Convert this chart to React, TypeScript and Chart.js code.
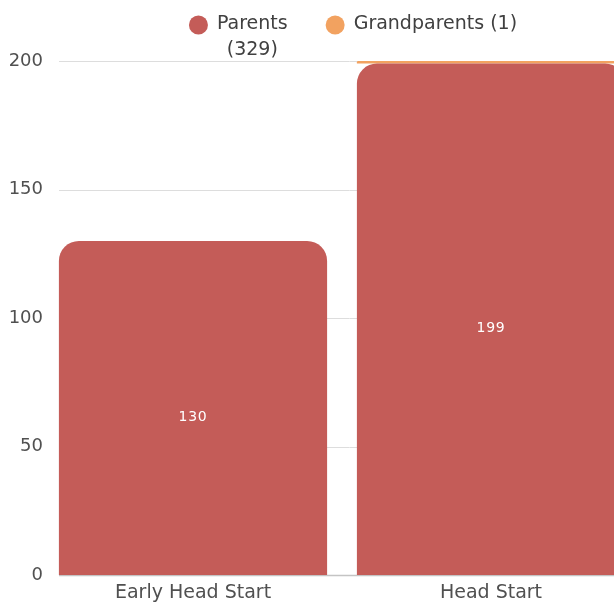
import React, { useEffect, useRef } from 'react';
import { Chart, registerables } from 'chart.js';

Chart.register(...registerables);

const CATEGORIES = ['Early Head Start', 'Head Start'];
const SERIES_NAMES = ['Parents', 'Grandparents'];
const PARENTS = [130, 199];
const GRANDPARENTS = [0, 1];
const Y_TICKS = [0, 50, 100, 150, 200];

const FONT = '"DejaVu Sans", sans-serif';
const RED = '#C45C58';
const ORANGE = '#F2A260';
const TEXT = '#505050';
const W = 706;
const H = 602;

const sum = (a: number[]) => a.reduce((s, v) => s + v, 0);

const gridPlugin = {
  id: 'customGrid',
  beforeDatasetsDraw(chart: any) {
    const { ctx, chartArea, scales } = chart;
    const y = scales.y;
    ctx.save();
    y.ticks.forEach((t: any) => {
      const py = Math.round(y.getPixelForValue(t.value)) + 0.5;
      ctx.strokeStyle = t.value === 0 ? '#c4c4c4' : '#dddddd';
      ctx.lineWidth = t.value === 0 ? 1.5 : 1;
      ctx.beginPath();
      ctx.moveTo(chartArea.left + 15, py);
      ctx.lineTo(chartArea.right, py);
      ctx.stroke();
    });
    ctx.restore();
  },
};

const valueLabelPlugin = {
  id: 'valueLabels',
  afterDatasetsDraw(chart: any) {
    const { ctx } = chart;
    const meta = chart.getDatasetMeta(0);
    const data = chart.data.datasets[0].data as number[];
    ctx.save();
    ctx.fillStyle = '#ffffff';
    ctx.font = `14px ${FONT}`;
    (ctx as any).letterSpacing = '0.8px';
    ctx.textAlign = 'center';
    ctx.textBaseline = 'middle';
    meta.data.forEach((el: any, i: number) => {
      const cy = (el.y + el.base) / 2 + 9;
      ctx.fillText(String(data[i]), el.x, cy);
    });
    ctx.restore();
  },
};

const legendPlugin = {
  id: 'customLegend',
  afterDraw(chart: any) {
    const { ctx, width } = chart;
    const datasets = chart.data.datasets;
    const r = 9.5;
    const gap = 9;
    const spacing = 38;
    const lineH = 26;
    ctx.save();
    ctx.font = `19px ${FONT}`;
    const items = datasets.map((ds: any, i: number) => {
      const total = sum(ds.data as number[]);
      const lines = i === 0 ? [ds.label, `(${total})`] : [`${ds.label} (${total})`];
      const tw = Math.max(...lines.map((l: string) => ctx.measureText(l).width));
      return { lines, tw, color: ds.backgroundColor, w: 2 * r + gap + tw };
    });
    const total = items.reduce((s: number, it: any) => s + it.w, 0) + spacing * (items.length - 1);
    let x = width / 2 - total / 2;
    const y0 = 23;
    items.forEach((it: any) => {
      ctx.fillStyle = it.color;
      ctx.beginPath();
      ctx.arc(x + r, y0 + 2, r, 0, Math.PI * 2);
      ctx.fill();
      ctx.fillStyle = '#404040';
      ctx.textAlign = 'center';
      ctx.textBaseline = 'middle';
      const cx = x + 2 * r + gap + it.tw / 2;
      it.lines.forEach((l: string, k: number) => {
        ctx.fillText(l, cx, y0 + 1 + k * lineH);
      });
      x += it.w + spacing;
    });
    ctx.restore();
  },
};

export default function App() {
  const ref = useRef<HTMLCanvasElement>(null);
  useEffect(() => {
    const chart = new Chart(ref.current!, {
      type: 'bar',
      data: {
        labels: CATEGORIES,
        datasets: [
          {
            label: SERIES_NAMES[0],
            data: PARENTS,
            backgroundColor: RED,
            borderRadius: { topLeft: 20, topRight: 20, bottomLeft: 0, bottomRight: 0 },
            borderSkipped: 'start',
            barPercentage: 0.9,
            categoryPercentage: 1,
          },
          {
            label: SERIES_NAMES[1],
            data: GRANDPARENTS,
            backgroundColor: ORANGE,
            borderRadius: { topLeft: 20, topRight: 20, bottomLeft: 0, bottomRight: 0 },
            borderSkipped: 'start',
            barPercentage: 0.9,
            categoryPercentage: 1,
          },
        ],
      },
      options: {
        responsive: false,
        animation: false,
        layout: { padding: { top: 61, right: 66, bottom: 0, left: 0 } },
        plugins: {
          legend: { display: false },
          tooltip: { enabled: false },
        },
        scales: {
          x: {
            stacked: true,
            grid: { display: false, drawTicks: false },
            border: { display: false },
            ticks: { color: TEXT, font: { family: FONT, size: 19 }, padding: 7 },
            afterFit: (s: any) => {
              s.height = 27;
            },
          },
          y: {
            stacked: true,
            min: 0,
            max: 200,
            grid: { display: false, drawTicks: false },
            border: { display: false },
            ticks: { color: TEXT, font: { family: FONT, size: 18 }, padding: 1 },
            afterBuildTicks: (s: any) => {
              s.ticks = Y_TICKS.map((v) => ({ value: v }));
            },
            afterFit: (s: any) => {
              s.width = 44;
            },
          },
        },
      },
      plugins: [gridPlugin, valueLabelPlugin, legendPlugin],
    });
    return () => chart.destroy();
  }, []);
  return (
    <div style={{ position: 'fixed', left: 0, top: 0, width: W, height: H, background: '#fff' }}>
      <canvas ref={ref} width={W} height={H} style={{ width: W, height: H, display: 'block' }} />
    </div>
  );
}
